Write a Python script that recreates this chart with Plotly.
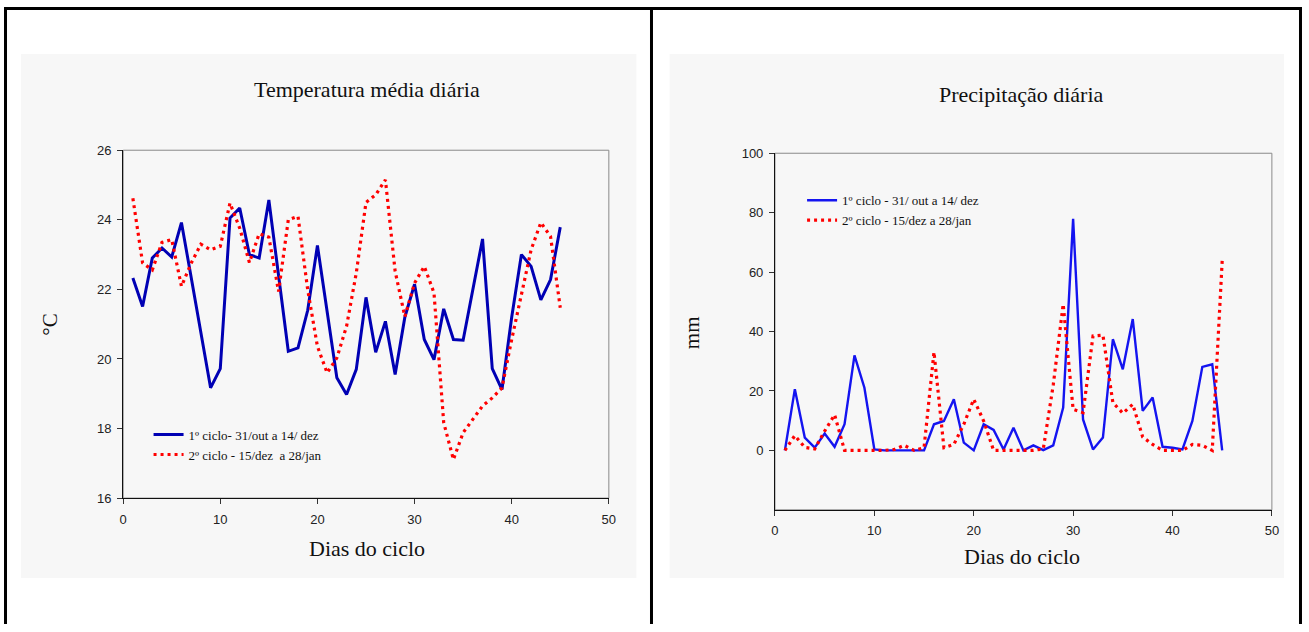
import plotly.graph_objects as go

W, H = 1309, 632

dias = [1, 2, 3, 4, 5, 6, 7, 8, 9, 10, 11, 12, 13, 14, 15, 16, 17, 18, 19, 20,
        21, 22, 23, 24, 25, 26, 27, 28, 29, 30, 31, 32, 33, 34, 35, 36, 37, 38, 39, 40,
        41, 42, 43, 44, 45]

temp_ciclo1 = [22.33, 21.51, 22.9, 23.19, 22.93, 23.92, 22.35, 20.8, 19.17, 19.72,
               24.05, 24.34, 23.0, 22.9, 24.57, 22.4, 20.22, 20.32, 21.4, 23.26,
               21.4, 19.46, 18.98, 19.7, 21.77, 20.19, 21.08, 19.55, 21.2, 22.15,
               20.56, 19.98, 21.44, 20.56, 20.54, 22.0, 23.45, 19.72, 19.12, 21.2,
               23.0, 22.66, 21.7, 22.28, 23.79]
temp_ciclo2 = [24.62, 22.76, 22.56, 23.35, 23.43, 22.09, 22.75, 23.3, 23.14, 23.24,
               24.48, 23.76, 22.77, 23.6, 23.5, 21.94, 24.0, 24.1, 21.99, 20.36,
               19.6, 20.03, 20.94, 22.47, 24.5, 24.72, 25.15, 22.52, 21.22, 22.18,
               22.66, 21.9, 18.17, 17.11, 17.88, 18.26, 18.65, 18.88, 19.17, 20.56,
               21.8, 23.14, 23.92, 23.52, 21.47]

prec_ciclo1 = [0, 20.6, 4.3, 0.9, 5.7, 1.2, 8.8, 32.0, 21.1, 0.3,
               0, 0, 0, 0, 0, 8.8, 9.9, 17.2, 2.6, 0,
               8.8, 6.9, 0.3, 7.6, 0, 1.7, 0.1, 1.7, 14.4, 77.9,
               10.4, 0.3, 4.3, 37.4, 27.3, 44.2, 13.3, 17.8, 1.2, 0.9,
               0.3, 9.9, 28.1, 29.0, 0]
prec_ciclo2 = [0, 5, 1, 0.5, 6.5, 12, 0, 0, 0, 0,
               0, 0.3, 1.7, 0, 0.9, 33.1, 0.9, 2.0, 8.8, 17.2,
               9.9, 0, 0, 0, 0, 0, 0.5, 22, 49.2, 13.8,
               12.7, 38.5, 38.8, 16.1, 12.5, 15.5, 4.5, 2, 0, 0,
               0, 2, 1.7, 0, 63.8]

nome_temp1 = "1º ciclo- 31/out a 14/ dez"
nome_temp2 = "2º ciclo - 15/dez  a 28/jan"
nome_prec1 = "1º ciclo - 31/ out a 14/ dez"
nome_prec2 = "2º ciclo - 15/dez a 28/jan"

x_ticks = [0, 10, 20, 30, 40, 50]
temp_ticks = [16, 18, 20, 22, 24, 26]
prec_ticks = [0, 20, 40, 60, 80, 100]

SERIF = "Liberation Serif, Times New Roman, serif"
SANS = "Liberation Sans, Arial, sans-serif"
DOT = "3px,4px"

# the page is photographed with an 8px page margin around the figure,
# so target picture pixels are mapped into that inner box
OFF, BW, BH = 8.0, 1293.0, 616.0


def px(x):
    return (x - OFF) / BW


def py(y):
    return 1 - (y - OFF) / BH


fig = go.Figure()
fig.add_trace(go.Scatter(x=dias, y=temp_ciclo1, mode="lines", name=nome_temp1,
                         line=dict(color="#0000b4", width=3), legend="legend",
                         xaxis="x", yaxis="y"))
fig.add_trace(go.Scatter(x=dias, y=temp_ciclo2, mode="lines", name=nome_temp2,
                         line=dict(color="#ff0000", width=3.2, dash=DOT), legend="legend",
                         xaxis="x", yaxis="y"))
fig.add_trace(go.Scatter(x=dias, y=prec_ciclo1, mode="lines", name=nome_prec1,
                         line=dict(color="#1414f0", width=2.4), legend="legend2",
                         xaxis="x2", yaxis="y2"))
fig.add_trace(go.Scatter(x=dias, y=prec_ciclo2, mode="lines", name=nome_prec2,
                         line=dict(color="#ff0000", width=3.2, dash=DOT), legend="legend2",
                         xaxis="x2", yaxis="y2"))

axis_common = dict(showgrid=False, zeroline=False, showline=True, linecolor="#111",
                   linewidth=1, ticks="outside", ticklen=5, tickcolor="#333", tickwidth=1,
                   tickfont=dict(family=SANS, size=13, color="#222"))

fig.update_layout(
    width=W, height=H,
    margin=dict(l=0, r=0, t=0, b=0),
    paper_bgcolor="white",
    plot_bgcolor="rgba(0,0,0,0)",
    xaxis=dict(domain=[px(126.7), px(610.5)], range=[0, 50], tickvals=x_ticks,
               anchor="y", ticklabelstandoff=4, **axis_common),
    yaxis=dict(domain=[py(498.3), py(151)], range=[16, 26], tickvals=temp_ticks,
               anchor="x", ticklabelstandoff=3, **axis_common),
    xaxis2=dict(domain=[px(776), px(1271)], range=[0, 50], tickvals=x_ticks,
                anchor="y2", ticklabelstandoff=4, **axis_common),
    yaxis2=dict(domain=[py(510), py(154)], range=[-20, 100], tickvals=prec_ticks,
                anchor="x2", ticklabelstandoff=3, **axis_common),
    legend=dict(x=px(152), y=py(420), xanchor="left", yanchor="top",
                bgcolor="rgba(0,0,0,0)", borderwidth=0, tracegroupgap=0,
                font=dict(family=SERIF, size=13, color="#111")),
    legend2=dict(x=px(803), y=py(186), xanchor="left", yanchor="top",
                 bgcolor="rgba(0,0,0,0)", borderwidth=0, tracegroupgap=0,
                 font=dict(family=SERIF, size=13, color="#111")),
    showlegend=True,
)

shapes = []
# light textured chart backgrounds
for (x0, x1) in [(25, 638), (671, 1283)]:
    shapes.append(dict(type="rect", xref="paper", yref="paper", x0=px(x0), x1=px(x1),
                       y0=py(578), y1=py(55), fillcolor="#f7f7f7",
                       line=dict(width=0), layer="below"))
# grey plot frames
for xr, yr in [("x domain", "y domain"), ("x2 domain", "y2 domain")]:
    shapes.append(dict(type="rect", xref=xr, yref=yr, x0=0, x1=1, y0=0, y1=1,
                       line=dict(color="#8a8a8a", width=1), layer="below"))
# outer table frame (kept inside the drawable area)
shapes.append(dict(type="line", xref="paper", yref="paper", x0=0, x1=1,
                   y0=1 - 1.5 / BH, y1=1 - 1.5 / BH, line=dict(color="black", width=3)))
for fx in [1.5 / BW, px(653), 1 - 1.5 / BW]:
    shapes.append(dict(type="line", xref="paper", yref="paper", x0=fx, x1=fx,
                       y0=0, y1=1, line=dict(color="black", width=3)))
fig.update_layout(shapes=shapes)

annotations = [
    dict(text="Temperatura média diária", x=px(370), y=py(90), font=dict(size=22)),
    dict(text="Precipitação diária", x=px(1022), y=py(95), font=dict(size=22)),
    dict(text="Dias do ciclo", x=px(370), y=py(549), font=dict(size=22)),
    dict(text="Dias do ciclo", x=px(1022), y=py(557), font=dict(size=22)),
    dict(text="°C", x=px(53), y=py(325), textangle=-90, font=dict(size=21)),
    dict(text="mm", x=px(693), y=py(333), textangle=-90, font=dict(size=21)),
]
for a in annotations:
    a.update(xref="paper", yref="paper", showarrow=False, xanchor="center", yanchor="middle")
    a["font"].update(family=SERIF, color="#111")
fig.update_layout(annotations=annotations)

fig.write_html("out.html")
